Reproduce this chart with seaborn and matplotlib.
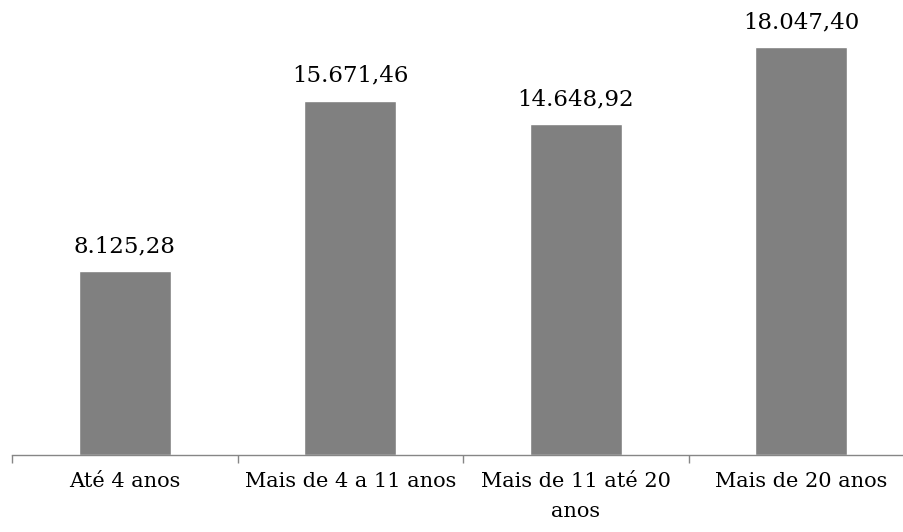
import numpy as np
import pandas as pd
import seaborn as sns
import matplotlib.pyplot as plt

# dados
categorias = ['Até 4 anos', 'Mais de 4 a 11 anos', 'Mais de 11 até 20\nanos', 'Mais de 20 anos']
valores = [8125.28, 15671.46, 14648.92, 18047.40]

df = pd.DataFrame({'faixa': categorias, 'valor': valores})

sns.set_theme(style='white')
plt.rcParams['font.family'] = ['DejaVu Serif']

fig = plt.figure(figsize=(9.04, 5.32), dpi=100)
ax = fig.add_axes([12 / 904, 77 / 532, 902 / 904, 452 / 532])

sns.barplot(data=df, x='faixa', y='valor', color='#808080', saturation=1,
            width=0.41, ax=ax)

ax.set_ylim(0, 20000)
ax.set_xlim(-0.5, len(categorias) - 0.5)

# rótulos de valor no formato brasileiro
for bar, v in zip(ax.patches, valores):
    txt = f'{v:,.2f}'.replace(',', 'X').replace('.', ',').replace('X', '.')
    ax.annotate(txt, (bar.get_x() + bar.get_width() / 2, bar.get_height()),
                xytext=(0, 10), textcoords='offset points',
                ha='center', va='bottom', fontsize=16.5, color='#000000')

ax.set_xlabel('')
ax.set_ylabel('')
ax.set_yticks([])
ax.tick_params(axis='x', which='major', length=0, labelsize=15, pad=12,
               colors='#000000')
for lbl in ax.get_xticklabels():
    lbl.set_linespacing(1.75)
ax.set_xticks(np.arange(-0.5, len(categorias), 1), minor=True)
ax.tick_params(axis='x', which='minor', bottom=True, length=6, width=1,
               color='#868686', direction='out')

for s in ['top', 'right', 'left']:
    ax.spines[s].set_visible(False)
ax.spines['bottom'].set_color('#868686')
ax.spines['bottom'].set_linewidth(1)

fig.savefig('out.png', dpi=100)
